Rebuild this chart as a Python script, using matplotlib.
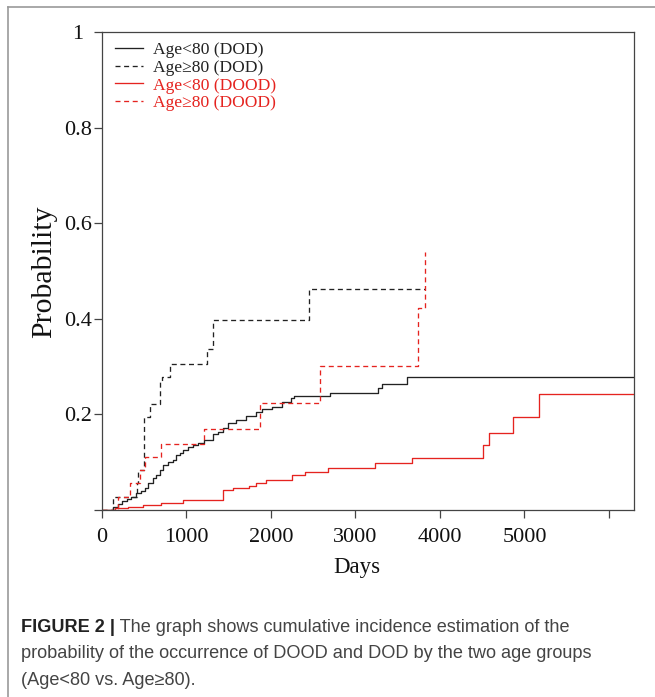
import matplotlib
matplotlib.use("Agg")
import matplotlib.pyplot as plt
from matplotlib.lines import Line2D
from matplotlib.transforms import ScaledTranslation

# ---------------- data ----------------
# Age<80 (DOD)
dod_lt80_t = [0, 74, 133, 192, 231, 290, 349, 408, 467, 506, 545, 604, 643, 682, 722,
              780, 839, 878, 918, 957, 1016, 1074, 1133, 1212, 1310, 1369, 1427, 1486,
              1584, 1702, 1820, 1898, 2016, 2133, 2231, 2271, 2702, 3271, 3310, 3604, 6300]
dod_lt80_p = [0, 0, 0.006, 0.013, 0.019, 0.023, 0.028, 0.035, 0.040, 0.047, 0.056, 0.066,
              0.073, 0.084, 0.094, 0.101, 0.105, 0.115, 0.119, 0.126, 0.132, 0.136, 0.141,
              0.146, 0.159, 0.164, 0.171, 0.183, 0.188, 0.197, 0.206, 0.211, 0.216, 0.225,
              0.234, 0.239, 0.245, 0.256, 0.264, 0.278, 0.278]

# Age>=80 (DOD)
dod_ge80_t = [0, 126, 415, 430, 500, 565, 682, 714, 800, 1239, 1310, 2447, 3820]
dod_ge80_p = [0, 0.028, 0.056, 0.084, 0.195, 0.222, 0.268, 0.279, 0.305, 0.337, 0.397,
              0.462, 0.462]

# Age<80 (DOOD)
dood_lt80_t = [0, 100, 153, 310, 486, 702, 957, 1427, 1545, 1741, 1820, 1937, 2251, 2408,
               2675, 3231, 3664, 4510, 4584, 4859, 5173, 6300]
dood_lt80_p = [0, 0, 0.004, 0.007, 0.011, 0.015, 0.021, 0.042, 0.045, 0.050, 0.056, 0.063,
               0.073, 0.080, 0.087, 0.098, 0.108, 0.135, 0.162, 0.194, 0.242, 0.242]

# Age>=80 (DOOD)
dood_ge80_t = [0, 192, 329, 447, 506, 702, 1212, 1867, 2584, 3741, 3820]
dood_ge80_p = [0, 0.028, 0.056, 0.084, 0.111, 0.139, 0.169, 0.224, 0.302, 0.422, 0.54]

series_labels = ["Age<80 (DOD)", "Age\u226580 (DOD)", "Age<80 (DOOD)", "Age\u226580 (DOOD)"]

x_ticks = [0, 1000, 2000, 3000, 4000, 5000, 6000]
x_ticklabels = ["0", "1000", "2000", "3000", "4000", "5000", ""]
y_ticks = [0, 0.2, 0.4, 0.6, 0.8, 1.0]
y_ticklabels = ["", "0.2", "0.4", "0.6", "0.8", "1"]

caption_bold = "FIGURE 2 |"
caption_line1 = " The graph shows cumulative incidence estimation of the"
caption_line2 = "probability of the occurrence of DOOD and DOD by the two age groups"
caption_line3 = "(Age<80 vs. Age\u226580)."

# ---------------- styling ----------------
plt.rcParams["lines.scale_dashes"] = False
W, H = 655, 697
BLACK = "#222222"
RED = "#e5231f"
SERIF = ["Liberation Serif", "DejaVu Serif"]
SANS = ["Liberation Sans", "DejaVu Sans"]

fig = plt.figure(figsize=(W / 100, H / 100), dpi=100)
ax = fig.add_axes([102 / W, 1 - 510 / H, (634.3 - 102) / W, 478 / H])

lw = 0.95
dash = (3.6, 2.6)
l1, = ax.step(dod_lt80_t, dod_lt80_p, where="post", color=BLACK, lw=lw)
l2, = ax.step(dod_ge80_t, dod_ge80_p, where="post", color=BLACK, lw=lw, dashes=dash)
l3, = ax.step(dood_lt80_t, dood_lt80_p, where="post", color=RED, lw=lw)
l4, = ax.step(dood_ge80_t, dood_ge80_p, where="post", color=RED, lw=lw, dashes=dash)

ax.set_xlim(0, 6300)
ax.set_ylim(0, 1)
ax.set_xticks(x_ticks)
ax.set_xticklabels(x_ticklabels)
ax.set_yticks(y_ticks)
ax.set_yticklabels(y_ticklabels)
ax.tick_params(axis="both", direction="out", length=5.6, width=0.9, color="#444444")
ax.tick_params(axis="x", pad=7)
ax.tick_params(axis="y", pad=1.5)
for lab in ax.get_xticklabels() + ax.get_yticklabels():
    lab.set_fontfamily(SERIF)
    lab.set_fontsize(16)
    lab.set_color("#111111")
for sp in ax.spines.values():
    sp.set_color("#444444")
    sp.set_linewidth(0.9)

# the "1" label sits a little further left in the reference
top_lab = ax.get_yticklabels()[-1]
top_lab.set_transform(top_lab.get_transform() + ScaledTranslation(-0.09, 0, fig.dpi_scale_trans))

leg = ax.legend([l1, l2, l3, l4], series_labels, loc="upper left",
                bbox_to_anchor=(115 / W, 1 - 42 / H), bbox_transform=fig.transFigure,
                frameon=False, prop={"family": SERIF, "size": 12.6},
                handlelength=1.6, handletextpad=0.55, labelspacing=0.08,
                borderpad=0, borderaxespad=0,
                labelcolor=[BLACK, BLACK, RED, RED])

fig.text(357 / W, 1 - 567 / H, "Days", ha="center", va="center",
         fontfamily=SERIF, fontsize=16.5, color="#111111")
fig.text(44 / W, 1 - 272 / H, "Probability", ha="center", va="center", rotation=90,
         fontfamily=SERIF, fontsize=21.5, color="#111111")

# caption
cap_size = 13.1
tb = fig.text(21 / W, 1 - 632 / H, caption_bold, ha="left", va="baseline",
              fontfamily=SANS, fontweight="bold", fontsize=cap_size, color="#222222")
ax.annotate(caption_line1, xy=(1, 0), xycoords=tb, ha="left", va="bottom",
            fontfamily=SANS, fontsize=cap_size, color="#444444", annotation_clip=False)
fig.text(21 / W, 1 - 658.5 / H, caption_line2, ha="left", va="baseline",
         fontfamily=SANS, fontsize=cap_size, color="#444444")
fig.text(21 / W, 1 - 685 / H, caption_line3, ha="left", va="baseline",
         fontfamily=SANS, fontsize=cap_size, color="#444444")

# outer frame (left and top edges of the figure panel)
fig.add_artist(Line2D([7.5 / W, 7.5 / W], [0, 1 - 7 / H], transform=fig.transFigure,
                      color="#9a9a9a", lw=1.2))
fig.add_artist(Line2D([7.5 / W, 1], [1 - 7 / H, 1 - 7 / H], transform=fig.transFigure,
                      color="#9a9a9a", lw=1.2))

fig.savefig("out.png", dpi=100)
